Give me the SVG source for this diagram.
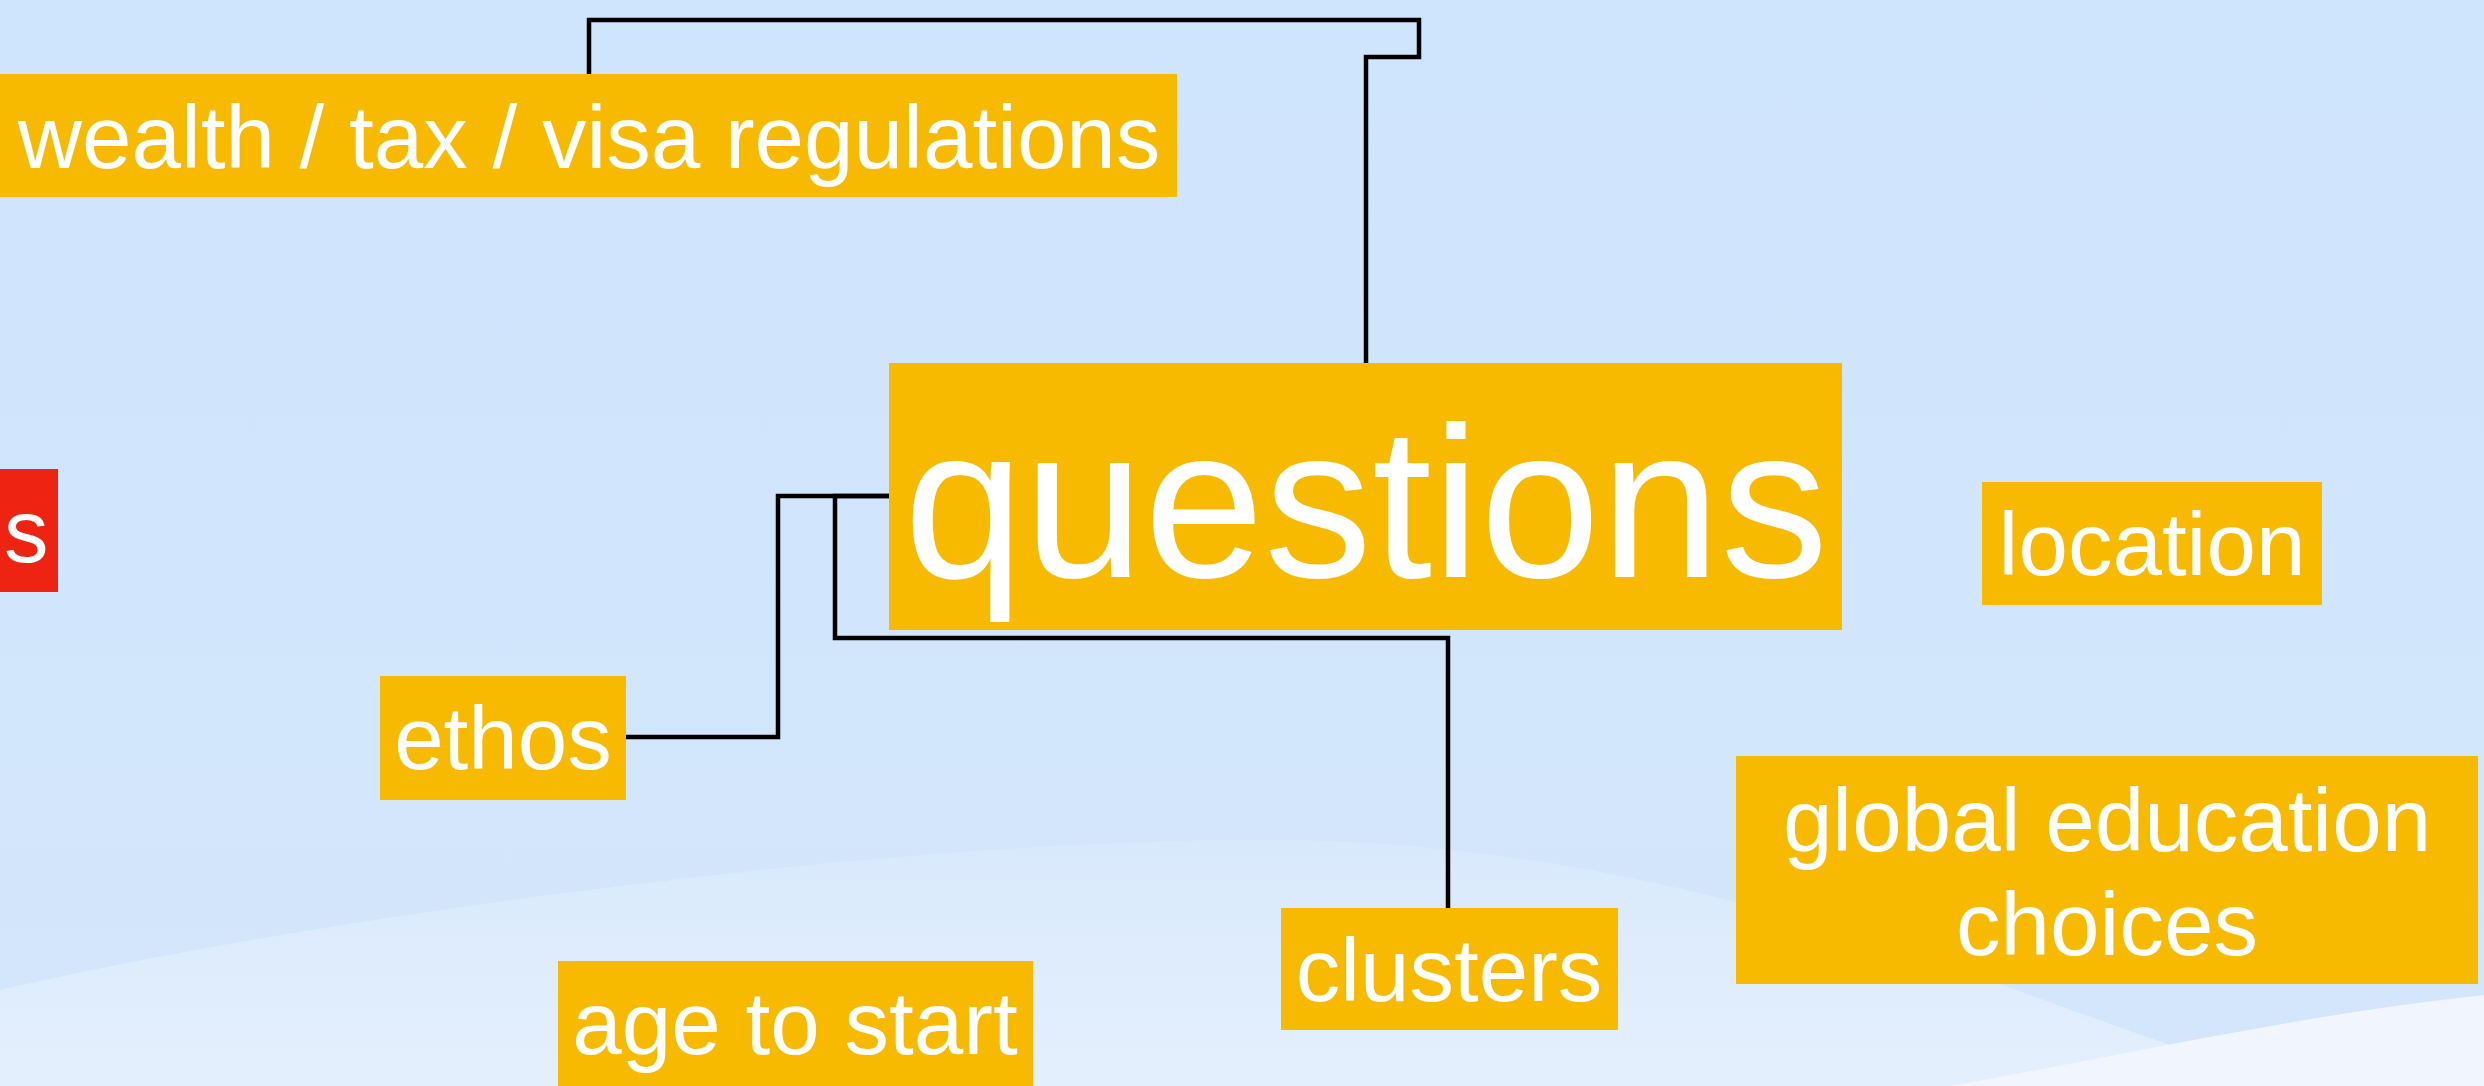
<svg xmlns="http://www.w3.org/2000/svg" width="2484" height="1086" viewBox="0 0 2484 1086">
<defs>
<linearGradient id="bg" x1="0" y1="0" x2="0" y2="1">
<stop offset="0" stop-color="#CFE5FD"/>
<stop offset="1" stop-color="#D3E6FB"/>
</linearGradient>
<linearGradient id="wave" x1="0" y1="0" x2="0" y2="1">
<stop offset="0" stop-color="#D9E9FC"/>
<stop offset="1" stop-color="#E4EFFC"/>
</linearGradient>
<style>
.box{fill:#F7BA00}
.red{fill:#EE2311}
.t{font-family:"Liberation Sans",Arial,sans-serif;fill:#FFFFFF;font-size:89px;text-anchor:middle}
.c{fill:none;stroke:#000000;stroke-width:4.5;stroke-linejoin:miter}
</style>
</defs>
<rect x="0" y="0" width="2484" height="1086" fill="url(#bg)"/>
<path d="M0,990 C300,920 900,835 1300,840 C1700,850 2000,990 2200,1055 L2484,1000 L2484,1086 L0,1086 Z" fill="url(#wave)"/>
<path d="M1950,1086 C2150,1050 2300,1015 2484,995 L2484,1086 Z" fill="#F1F5FD"/>
<g id="connectors">
<path class="c" d="M589,74 V20 H1419 V57 H1366 V363"/>
<path class="c" d="M889,496 H778 V737 H626"/>
<path class="c" d="M889,496 H835 V638 H1448 V908"/>
</g>
<g id="node-wealth">
<rect class="box" x="0" y="74" width="1177" height="123"/>
<text class="t" x="589" y="168">wealth / tax / visa regulations</text>
</g>
<g id="node-questions">
<rect class="box" x="889" y="363" width="953" height="267"/>
<text class="t" x="1366" y="577" style="font-size:216px">questions</text>
</g>
<g id="node-location">
<rect class="box" x="1982" y="482" width="340" height="123"/>
<text class="t" x="2152" y="575">location</text>
</g>
<g id="node-s">
<rect class="red" x="-20" y="469" width="78" height="123"/>
<text class="t" x="4" y="562" style="text-anchor:start">s</text>
</g>
<g id="node-ethos">
<rect class="box" x="380" y="676" width="246" height="124"/>
<text class="t" x="503" y="769">ethos</text>
</g>
<g id="node-global">
<rect class="box" x="1736" y="756" width="742" height="228"/>
<text class="t" x="2107" y="851">global education</text>
<text class="t" x="2107" y="955">choices</text>
</g>
<g id="node-clusters">
<rect class="box" x="1281" y="908" width="337" height="122"/>
<text class="t" x="1449" y="1001">clusters</text>
</g>
<g id="node-age">
<rect class="box" x="558" y="961" width="475" height="125"/>
<text class="t" x="795" y="1054">age to start</text>
</g>
</svg>
